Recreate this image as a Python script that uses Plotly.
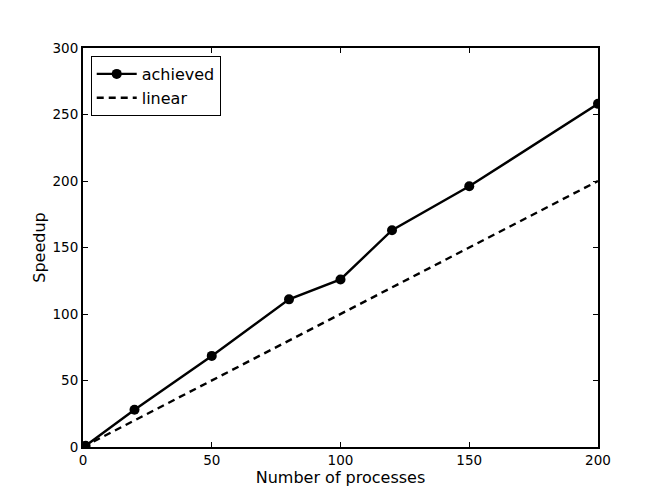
import plotly.graph_objects as go

processes = [1, 20, 50, 80, 100, 120, 150, 200]
speedup = [1, 28, 68.5, 111, 126, 163, 196, 258]
linear_x = [0, 200]
linear_y = [0, 200]

fig = go.Figure()
fig.add_trace(go.Scatter(x=processes, y=speedup, mode="lines+markers", name="achieved",
                         line=dict(color="black", width=2.4), marker=dict(color="black", size=10)))
fig.add_trace(go.Scatter(x=linear_x, y=linear_y, mode="lines", name="linear",
                         line=dict(color="black", width=2.4, dash="7px,5px")))

axis_common = dict(showgrid=False, zeroline=False, showline=True, linecolor="black", linewidth=2,
                   mirror="allticks", ticks="inside", ticklen=5, tickcolor="black", tickwidth=1,
                   tickfont=dict(family="DejaVu Sans", size=13.5, color="black"))
fig.update_xaxes(range=[0, 200], tickvals=[0, 50, 100, 150, 200],
                 title=dict(text="Number of processes", font=dict(family="DejaVu Sans", size=16, color="black"), standoff=2),
                 **axis_common)
fig.update_yaxes(range=[0, 300], tickvals=[0, 50, 100, 150, 200, 250, 300],
                 title=dict(text="Speedup", font=dict(family="DejaVu Sans", size=16, color="black"), standoff=3),
                 **axis_common)
fig.update_layout(width=664, height=498, margin=dict(l=75, r=74, t=40, b=59),
                  plot_bgcolor="white", paper_bgcolor="white",
                  legend=dict(x=0.015, y=0.98, xanchor="left", yanchor="top", bordercolor="black", borderwidth=1,
                              bgcolor="white", font=dict(family="DejaVu Sans", size=16, color="black"),
                              tracegroupgap=0, itemwidth=40),
                  showlegend=True)
fig.write_html("out.html")
